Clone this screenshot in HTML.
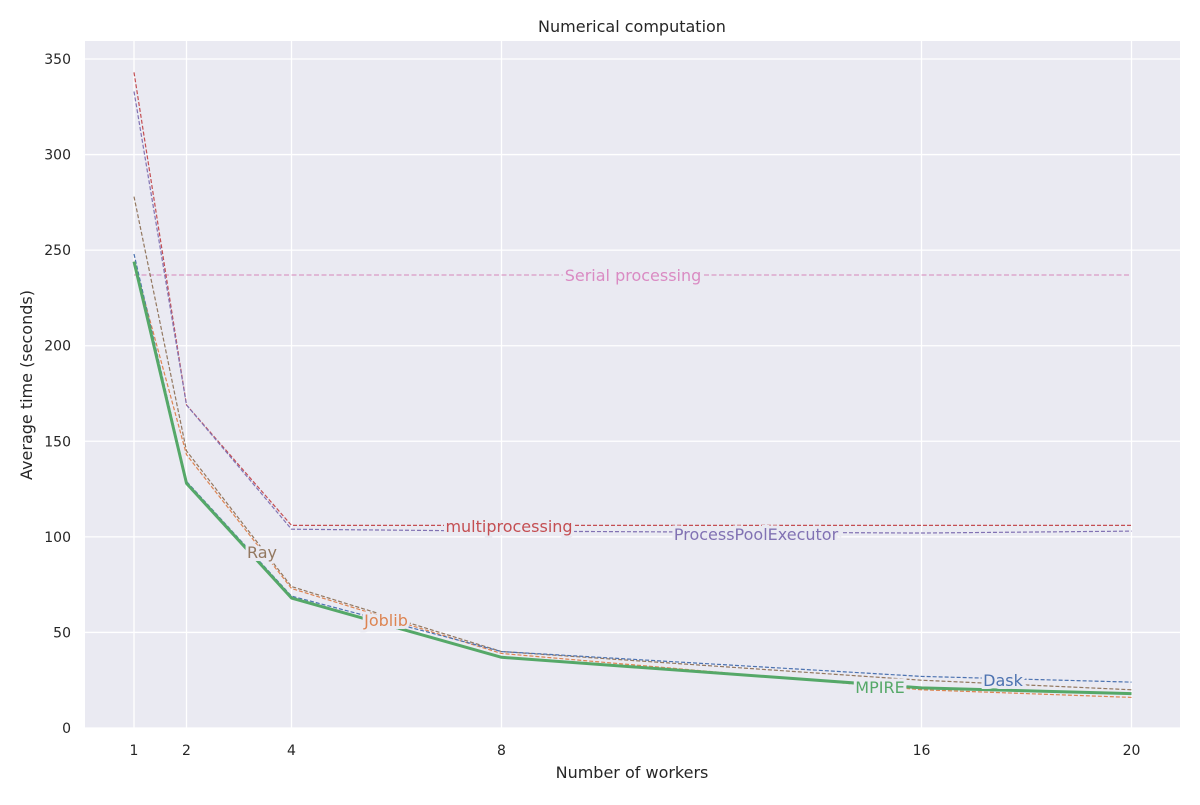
<!DOCTYPE html>
<html><head><meta charset="utf-8">
<style>
body{margin:0;background:#fff;font-family:"Liberation Sans","DejaVu Sans",sans-serif;}
svg text{font-family:"DejaVu Sans","Liberation Sans",sans-serif;}
</style></head>
<body>
<svg id="chart" width="1200" height="800" xmlns="http://www.w3.org/2000/svg">
<rect x="85" y="41" width="1095" height="687" fill="#eaeaf2"/>
<g id="grid"></g>
<g id="series"></g>
<g id="labels"></g>
<g id="ticks"></g>
<text x="632" y="32" text-anchor="middle" font-size="16" fill="#262626">Numerical computation</text>
<text x="632" y="778" text-anchor="middle" font-size="16" fill="#262626">Number of workers</text>
<text x="32" y="385" text-anchor="middle" font-size="16" fill="#262626" transform="rotate(-90 32 385)">Average time (seconds)</text>
</svg>
<script>
const xTicks = [1, 2, 4, 8, 16, 20];
const yTicks = [0, 50, 100, 150, 200, 250, 300, 350];
const workers = [1, 2, 4, 8, 16, 20];
const multiprocessingVals = [343, 169, 106, 106, 106, 106];
const processPoolVals = [333, 169, 104, 103, 102, 103];
const rayVals = [278, 145, 74, 40, 25, 20];
const joblibVals = [244, 143, 73, 39, 20, 16];
const daskVals = [248, 129, 69, 40, 27, 24];
const mpireVals = [244, 128, 68, 37, 21, 18];
const serialVal = 237;

const NS = "http://www.w3.org/2000/svg";
const xs = v => 81.5 + 52.5 * v;
const ys = v => 728 - v * (669 / 350);
function mk(tag, attrs, parent) {
  const e = document.createElementNS(NS, tag);
  for (const k in attrs) e.setAttribute(k, attrs[k]);
  parent.appendChild(e);
  return e;
}
const grid = document.getElementById('grid');
const ticks = document.getElementById('ticks');
xTicks.forEach(t => {
  const l = mk('line', {x1: xs(t), x2: xs(t), y1: 41, y2: 728, stroke: '#fff', 'stroke-width': 1.3}, grid);
  
  
  const tx = mk('text', {x: xs(t), y: 755, 'text-anchor': 'middle', 'font-size': 14, fill: '#262626'}, ticks);
  tx.textContent = t;
  
  
});
yTicks.forEach(t => {
  const l = mk('line', {x1: 85, x2: 1180, y1: ys(t), y2: ys(t), stroke: '#fff', 'stroke-width': 1.3}, grid);
  
  
  const tx = mk('text', {x: 71, y: ys(t) + 5, 'text-anchor': 'end', 'font-size': 14, fill: '#262626'}, ticks);
  tx.textContent = t;
  
  
});

const seriesG = document.getElementById('series');
const labelsG = document.getElementById('labels');
function drawSeries(name, vals, color, width, dash) {
  const pts = workers.map((w, i) => xs(w) + ',' + ys(vals[i])).join(' ');
  const p = mk('polyline', {points: pts, fill: 'none', stroke: color, 'stroke-width': width, 'stroke-dasharray': dash || 'none', 'stroke-linejoin': 'round'}, seriesG);
  
  
}
drawSeries('serial', workers.map(() => serialVal), '#d99bc6', 1.2, '5,2.5');
drawSeries('multiprocessing', multiprocessingVals, '#c44e52', 1.2, '4,2');
drawSeries('processpoolexecutor', processPoolVals, '#8172b3', 1.2, '4,2');
drawSeries('ray', rayVals, '#937860', 1.2, '4,2');
drawSeries('joblib', joblibVals, '#dd8452', 1.2, '4,2');
drawSeries('dask', daskVals, '#4c72b0', 1.2, '4,2');
drawSeries('mpire', mpireVals, '#55a868', 3, null);

function label(name, text, x, y, color) {
  const t = mk('text', {x: x, y: y + 6, 'text-anchor': 'middle', 'font-size': 16, fill: color, stroke: '#eaeaf2', 'stroke-width': 6, 'paint-order': 'stroke'}, labelsG);
  t.textContent = text;
  
  
}
label('serial', 'Serial processing', 633, ys(serialVal), '#da8bc3');
label('multiprocessing', 'multiprocessing', 509, 526, '#c44e52');
label('processpoolexecutor', 'ProcessPoolExecutor', 756, 534, '#8172b3');
label('ray', 'Ray', 262, 552, '#937860');
label('joblib', 'Joblib', 386, 620, '#dd8452');
label('dask', 'Dask', 1003, 680, '#4c72b0');
label('mpire', 'MPIRE', 880, 687, '#55a868');
</script>
</body></html>
